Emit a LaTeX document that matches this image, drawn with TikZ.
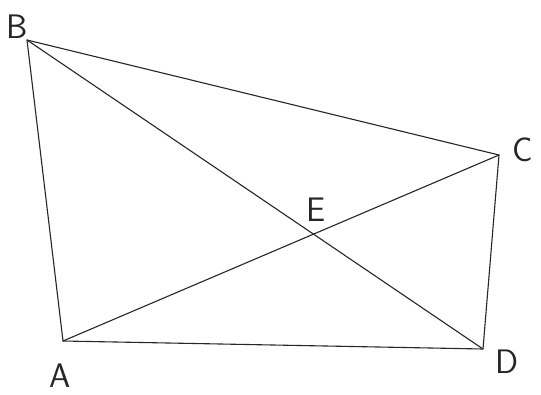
\documentclass[tikz,border=0pt]{standalone}
\tikzset{
  edge/.style={draw=black!85, line width=1.1pt, line cap=round, line join=round},
  lbl/.style={font=\sffamily\fontsize{34}{34}\selectfont, text=black!85, inner sep=0pt}
}
\begin{document}
\begin{tikzpicture}[x=1pt,y=-1pt]
  \useasboundingbox[fill=white] (0,0) rectangle (541,394);
  \coordinate (B) at (27,40);
  \coordinate (C) at (499,155);
  \coordinate (D) at (483,349);
  \coordinate (A) at (63,341);
  \coordinate (E) at (313.5,234.1);
  \draw[edge] (A) -- (B) -- (C) -- (D) -- cycle;
  \draw[edge] (B) -- (D);
  \draw[edge] (A) -- (C);
  \node[lbl] (lB) at (17,27) {B};
  \node[lbl] (lC) at (523,150) {C};
  \node[lbl] (lE) at (316,210) {E};
  \node[lbl] (lA) at (60,376) {A};
  \node[lbl] (lD) at (507,362) {D};
\end{tikzpicture}
\end{document}
